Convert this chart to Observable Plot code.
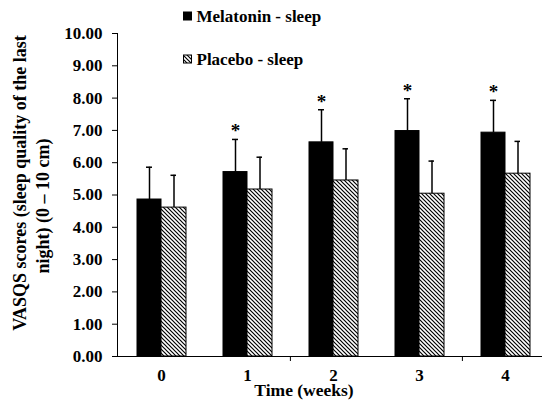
<!DOCTYPE html>
<html><head>
<meta charset="utf-8">
<script src="https://cdn.jsdelivr.net/npm/d3@7"></script>
<script src="https://cdn.jsdelivr.net/npm/@observablehq/plot@0.6"></script>
<style>
body{margin:0;background:#fff;}
#chart{width:542px;height:400px;}
#chart svg, #chart svg text { font-family: "Liberation Serif", "Times New Roman", serif !important; font-weight: bold; }
</style>
</head><body><div id="chart"></div>
<script>
const weeks = ["0", "1", "2", "3", "4"];
const melatoninMean = [4.86, 5.71, 6.63, 6.98, 6.93];
const melatoninSD = [1.00, 1.01, 1.01, 1.00, 1.00];
const placeboMean = [4.61, 5.17, 5.45, 5.04, 5.66];
const placeboSD = [1.00, 1.00, 0.98, 1.01, 1.00];
const significant = [false, true, true, true, true];
const yTicks = [0, 1, 2, 3, 4, 5, 6, 7, 8, 9, 10];
const seriesNames = ["Melatonin - sleep", "Placebo - sleep"];
const yTitle = ["VASQS scores (sleep quality of the last", "night) (0 \u2013 10 cm)"];
const xTitle = "Time (weeks)";

const mel = weeks.map((w, i) => ({week: w, mean: melatoninMean[i], sd: melatoninSD[i], sig: significant[i]}));
const pla = weeks.map((w, i) => ({week: w, mean: placeboMean[i], sd: placeboSD[i]}));

const FONT = "Liberation Serif";
const FS = 17;

const chart = Plot.plot({
  width: 542,
  height: 400,
  marginLeft: 117,
  marginRight: 0,
  marginTop: 33,
  marginBottom: 44,
  style: {fontFamily: FONT, fontWeight: "bold", fontSize: FS + "px", background: "#fff", color: "#000"},
  x: {domain: weeks, range: [117, 548], padding: 0, axis: null},
  y: {domain: [0, 10], axis: null},
  marks: [
    Plot.axisY({ticks: yTicks, tickFormat: d3.format(".2f"), tickSize: 5, tickPadding: 10, fontSize: FS, fontWeight: "bold", label: null, stroke: "#000", strokeWidth: 1}),
    Plot.axisX({tickSize: 0, tickPadding: 12, fontSize: FS, fontWeight: "bold", label: null}),
    Plot.axisX({ticks: ["2", "4"], tickSize: 5, tickFormat: () => "", dx: -43.1, label: null, stroke: "#000"}),
    Plot.barY(mel, {x: "week", y: "mean", fill: "#000", stroke: "#000", strokeWidth: 1, insetLeft: 19, insetRight: 43}),
    Plot.barY(pla, {x: "week", y: "mean", fill: "url(#hatch)", stroke: "#000", strokeWidth: 1, insetLeft: 43, insetRight: 18}),
    Plot.ruleX(mel, {x: "week", y1: "mean", y2: d => d.mean + d.sd, dx: -12, stroke: "#000", strokeWidth: 1.5}),
    Plot.ruleX(pla, {x: "week", y1: "mean", y2: d => d.mean + d.sd, dx: 12.5, stroke: "#000", strokeWidth: 1.5}),
    Plot.tickY(mel, {x: "week", y: d => d.mean + d.sd, insetLeft: 28, insetRight: 52, stroke: "#000", strokeWidth: 1.5}),
    Plot.tickY(pla, {x: "week", y: d => d.mean + d.sd, insetLeft: 52.5, insetRight: 28, stroke: "#000", strokeWidth: 1.5}),
    Plot.text(mel.filter(d => d.sig), {x: "week", y: d => d.mean + d.sd, text: () => "*", dx: -12, dy: -2, lineAnchor: "bottom", fontSize: 19, fontWeight: "bold", fill: "#000"}),
    Plot.ruleY([0], {stroke: "#000", strokeWidth: 1}),
    Plot.frame({anchor: "left", stroke: "#000", strokeWidth: 1}),
    Plot.text([yTitle[0]], {frameAnchor: "left", textAnchor: "middle", lineAnchor: "middle", text: d => d, rotate: -90, dx: -97, dy: -12, fontSize: 18, fontWeight: "bold", fill: "#000"}),
    Plot.text([yTitle[1]], {frameAnchor: "left", textAnchor: "middle", lineAnchor: "middle", text: d => d, rotate: -90, dx: -74, dy: 11, fontSize: 18, fontWeight: "bold", fill: "#000"}),
    Plot.text([xTitle], {frameAnchor: "bottom", textAnchor: "middle", lineAnchor: "bottom", text: d => d, dx: -26, dy: 39, fontSize: 17.5, fontWeight: "bold", fill: "#000"})
  ]
});

const svg = d3.select(chart);
const defs = svg.insert("defs", ":first-child");
const pat = defs.append("pattern").attr("id", "hatch").attr("patternUnits", "userSpaceOnUse").attr("width", 4).attr("height", 4);
pat.append("rect").attr("width", 4).attr("height", 4).attr("fill", "#fff");
pat.append("path").attr("d", "M0,0 L4,4 M-1,3 L1,5 M3,-1 L5,1").attr("stroke", "#000").attr("stroke-width", 1.2);

const legend = svg.append("g").attr("font-size", FS).attr("text-anchor", "start");
const legY = [12, 55];
const legFill = ["#000", "url(#hatch)"];
seriesNames.forEach((name, i) => {
  legend.append("rect").attr("x", 183.5).attr("y", legY[i]).attr("width", 8).attr("height", 8).attr("fill", legFill[i]).attr("stroke", "#000").attr("stroke-width", 1);
  legend.append("text").attr("x", 196.5).attr("y", legY[i] + 9.5).attr("fill", "#000").attr("text-anchor", "start").text(name);
});

document.getElementById("chart").appendChild(chart);
</script>
</body></html>
